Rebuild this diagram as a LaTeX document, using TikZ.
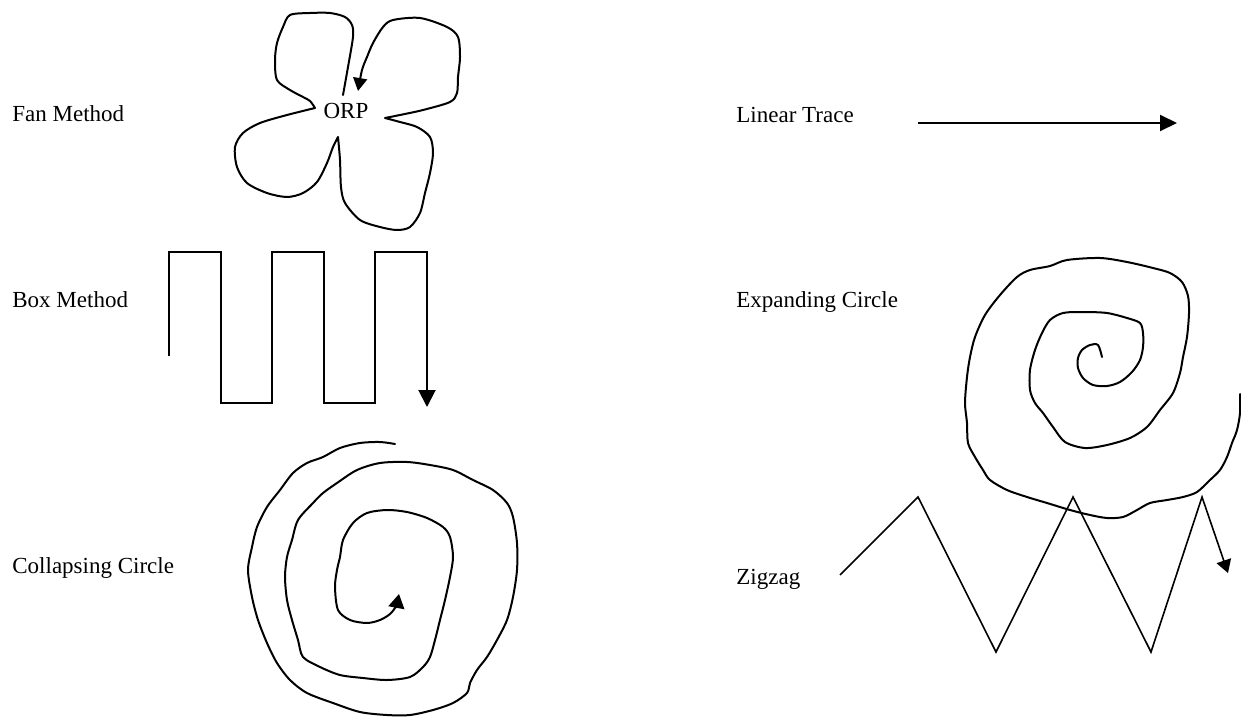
\documentclass[tikz,border=0pt]{standalone}
\usepackage{fontspec}
\setmainfont{Liberation Serif}
\usetikzlibrary{arrows.meta}
\begin{document}
\begin{tikzpicture}[x=0.5pt,y=-0.5pt,
  lbl/.style={anchor=base west,inner sep=0pt,font=\fontsize{11.5}{14}\selectfont},
  trace/.style={line width=1pt,line join=round,line cap=round},
  boxtrace/.style={line width=1pt,line join=miter},
  zigtrace/.style={line width=0.8pt,line join=miter},
  bigtip/.style={-{Triangle[length=8.5pt,width=8pt]}},
  smalltip/.style={-{Triangle[length=6.5pt,width=7pt]}}
]
\useasboundingbox (0,0) rectangle (1241,717);

% labels
\node[lbl] (fan) at (12,121) {Fan Method};
\node[lbl] (box) at (12,307) {Box Method};
\node[lbl] (coll) at (12,573) {Collapsing Circle};
\node[lbl] (lin) at (736,122) {Linear Trace};
\node[lbl] (exp) at (736,307) {Expanding Circle};
\node[lbl] (zig) at (736,584) {Zigzag};
\node[lbl,anchor=base] (orp) at (346,119) {ORP};

% linear trace
\coordinate (l0) at (918,123);
\coordinate (l1) at (1177,123);
\draw[line width=1pt,bigtip] (l0) -- (l1);

% box method
\draw[boxtrace,-{Triangle[length=8.5pt,width=8.5pt]}]
  (169,356) -- (169,252) -- (221,252) -- (221,403) -- (272,403) -- (272,252)
  -- (324,252) -- (324,403) -- (375,403) -- (375,252) -- (427,252) -- (427,407);

% fan method
\draw[trace,smalltip]
  plot[smooth] coordinates {(343,95) (348,67) (353,37) (352,25) (345,17) (330,13) (310,13) (290,15) (283,27) (277,43) (275,60) (277,80) (290,90) (303,97) (310,101) (315,108)}
  -- plot[smooth] coordinates {(315,108) (287,115) (260,123) (243,133) (235,147) (237,167) (247,183) (267,193) (287,197) (303,193) (317,182) (327,163) (333,147) (338,137)}
  -- plot[smooth] coordinates {(338,137) (340,160) (341,187) (345,203) (360,220) (380,227) (397,230) (410,227) (420,213) (425,193) (430,173) (433,153) (430,137) (417,127) (400,122) (385,118)}
  -- plot[smooth] coordinates {(385,118) (400,115) (423,110) (450,102) (457,93) (458,77) (460,57) (458,37) (447,27) (420,18) (393,20) (383,27) (373,43) (367,57) (362,70) (358,91)};

% collapsing circle
\draw[trace,-{Triangle[length=7pt,width=8pt]}]
  plot[smooth] coordinates {(395,444) (380,442) (360,443) (340,448) (323,457) (307,463) (293,473) (280,490) (267,507) (257,527) (252,547) (248,570) (252,597) (258,620) (267,643) (277,663) (290,680) (307,693) (333,703) (360,712) (387,715) (410,715) (433,710) (453,703) (467,693) (470,683) (477,670) (487,657) (497,640) (507,620) (513,597) (517,570) (517,543) (513,517) (507,503) (493,490) (473,480) (453,470) (430,465) (407,462) (380,463) (357,470) (337,483) (323,493) (313,503) (298,520) (292,540) (287,557) (285,577) (287,600) (292,620) (298,640) (303,657) (320,667) (340,675) (363,678) (387,680) (410,677) (423,667) (430,657) (435,640) (440,620) (445,600) (450,577) (453,557) (450,537) (443,527) (427,518) (407,512) (387,510) (367,513) (353,523) (343,540) (340,557) (337,570) (335,587) (338,610) (350,620) (367,623) (380,620) (390,614) (396,606) (399,594)};

% expanding circle
\draw[trace]
  plot[smooth] coordinates {(1102,357) (1098,345) (1090,345) (1082,350) (1078,358) (1078,368) (1083,378) (1093,385) (1107,386) (1120,382) (1132,372) (1140,360) (1143,347) (1143,333) (1140,323) (1127,318) (1107,313) (1083,312) (1063,313) (1050,320) (1042,333) (1035,350) (1030,370) (1030,390) (1035,403) (1043,413) (1053,427) (1065,442) (1085,448) (1107,445) (1130,438) (1147,427) (1160,410) (1173,393) (1180,373) (1183,357) (1187,337) (1189,313) (1188,296) (1182,282) (1170,273) (1153,268) (1127,262) (1100,258) (1067,260) (1050,266) (1030,270) (1017,277) (1000,295) (985,315) (975,337) (970,357) (967,377) (965,403) (967,423) (968,443) (975,457) (983,470) (990,480) (1007,490) (1027,497) (1047,503) (1070,510) (1090,515) (1107,518) (1123,517) (1137,510) (1150,503) (1167,500) (1183,497) (1197,492) (1210,480) (1220,470) (1227,457) (1232,443) (1237,430) (1240,413) (1240,394)};

% zigzag
\draw[zigtrace,-{Triangle[length=6.5pt,width=7.5pt]}]
  (840,575) -- (918,497) -- (996,652) -- (1073,497) -- (1151,652) -- (1202,497) -- (1228,573);
\end{tikzpicture}
\end{document}
